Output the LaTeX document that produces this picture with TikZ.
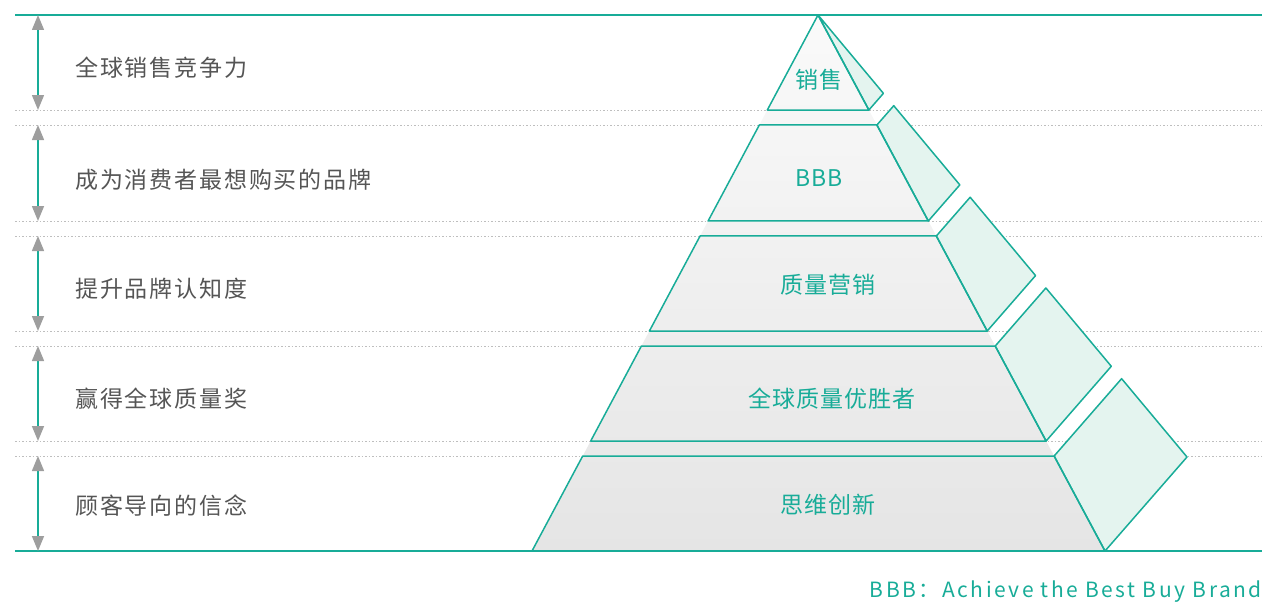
\documentclass[tikz,border=0pt]{standalone}
\usepackage{fontspec}
\setmainfont{Noto Sans CJK SC}
\usetikzlibrary{calc}
\usetikzlibrary{arrows.meta}
\definecolor{bbbteal}{RGB}{24,172,152}
\definecolor{textgray}{RGB}{85,85,85}
\definecolor{tipgray}{RGB}{158,158,158}
\definecolor{dotgray}{RGB}{190,190,190}
\definecolor{facefill}{RGB}{228,244,239}
\definecolor{shadetop}{RGB}{250,250,250}
\definecolor{shadebot}{RGB}{229,229,229}
\tikzstyle{borderline} = [draw=bbbteal, line width=1.5pt]
\tikzstyle{guide} = [draw=dotgray, line width=1pt, dash pattern=on 1.5pt off 2pt]
\tikzstyle{block} = [draw=bbbteal, line width=1.5pt, line join=round]
\tikzstyle{face} = [block, fill=facefill]
\tikzstyle{span} = [draw=bbbteal, line width=1.5pt,
{Triangle[width=12pt,length=15pt,color=tipgray]}-{Triangle[width=12pt,length=15pt,color=tipgray]}]
\tikzstyle{goal} = [anchor=west, inner sep=0pt, text=textgray,
font=\fontsize{23}{23}\selectfont\addfontfeature{LetterSpace=8}]
\tikzstyle{stage} = [inner sep=0pt, text=bbbteal,
font=\fontsize{23}{23}\selectfont\addfontfeature{LetterSpace=4}]
\newcommand{\layer}[2]{ %
  % one slice of the pyramid, between fractions #1 and #2 of its height
  \draw[face] ($(A)!#1!(R)$) -- ($(A)!#1!(B)$) -- ($(A)!#2!(B)$) -- ($(A)!#2!(R)$) -- cycle ;%
  \draw[block] ($(A)!#1!(L)$) -- ($(A)!#1!(R)$) -- ($(A)!#2!(R)$) -- ($(A)!#2!(L)$) -- cycle ;%
}
\begin{document}
\begin{tikzpicture}
  [
    x=1pt, y=-1pt,
    font=\fontsize{23}{23}\selectfont
    ]
  \useasboundingbox (0,0) rectangle (1265,602);

  % dotted guides between the bands
  \foreach \y in {110,125,221,236,331,346,441,456} {
    \draw[guide] (15,\y) -- (1262,\y);
  }

  \coordinate (A) at (818,15); % apex
  \coordinate (L) at (532,551); %
  \coordinate (R) at (1105,551); %
  \coordinate (B) at (1187,457); % back corner

  \shade[top color=shadetop, bottom color=shadebot] (A) -- (L) -- (R) -- cycle;

  \layer{0}{0.17724}
  \layer{0.20522}{0.38433}
  \layer{0.41231}{0.58955}
  \layer{0.61754}{0.79478}
  \layer{0.82276}{1}

  \draw[borderline] (15,15) -- (1262,15);
  \draw[borderline] (15,551) -- (1262,551);

  \coordinate (t1) at (38,15); \coordinate (b1) at (38,110); %
  \coordinate (t2) at (38,125); \coordinate (b2) at (38,221); %
  \coordinate (t3) at (38,236); \coordinate (b3) at (38,331); %
  \coordinate (t4) at (38,346); \coordinate (b4) at (38,441); %
  \coordinate (t5) at (38,456); \coordinate (b5) at (38,551); %

  \draw[span] (t1) -- (b1);
  \draw[span] (t2) -- (b2);
  \draw[span] (t3) -- (b3);
  \draw[span] (t4) -- (b4);
  \draw[span] (t5) -- (b5);

  \node[goal] (g1) at (75,68) {全球销售竞争力}; %
  \node[goal] (g2) at (75,180) {成为消费者最想购买的品牌}; %
  \node[goal] (g3) at (75,289) {提升品牌认知度}; %
  \node[goal] (g4) at (75,399) {赢得全球质量奖}; %
  \node[goal] (g5) at (75,506) {顾客导向的信念}; %

  \node[stage] (s1) at (819,80) {销售}; %
  \node[stage] (s2) at (819,178) {BBB}; %
  \node[stage] (s3) at (828,285) {质量营销}; %
  \node[stage] (s4) at (832,399) {全球质量优胜者}; %
  \node[stage] (s5) at (828,505) {思维创新}; %

  \node[anchor=base east, inner sep=0pt, text=bbbteal,
    font=\fontsize{21}{21}\selectfont\addfontfeature{LetterSpace=12}]
    (note) at (1262,597) {BBB：Achieve the Best Buy Brand};
\end{tikzpicture}
\end{document}
